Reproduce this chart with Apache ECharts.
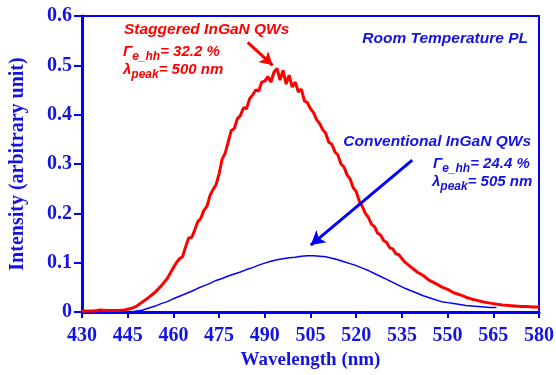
<!DOCTYPE html>
<html><head><meta charset="utf-8">
<script src="https://cdn.jsdelivr.net/npm/echarts@6/dist/echarts.min.js"></script>
<style>html,body{margin:0;padding:0;background:#fff}#c{width:556px;height:375px}</style>
</head><body><div id="c"></div>
<script>
var xTicks = [430,445,460,475,490,505,520,535,550,565,580];
var redWl = [430,432,434,436,438,440,442,444,446,448,450,452,454,456,458,460,461,462,463,464,465,466,467,468,469,470,471,472,473,474,475,476,477,478,
 479,480,481,482,483,484,485,486,487,488,489,490,491,492,493,494,495,496,497,498,499,500,501,502,503,504,505,506,507,508,509,510,511,512,513,514,515,516,517,518,519,520,521,
 522,523,524,525,526,527,528,529,530,531,532,533,534,536,538,540,542,544,546,548,550,552,554,556,558,560,562,564,566,568,570,572,574,576,578,580];
var redI = [.002,.002,.002,.004,.003,.003,.003,.004,.007,.012,.021,.030,.040,.053,.068,.090,.100,.108,.112,.132,.150,.151,.166,.183,.190,.206,.214,.236,.248,.258,.280,.310,.322,.345,
 .368,.372,.392,.398,.414,.412,.432,.440,.450,.448,.466,.468,.477,.466,.486,.494,.470,.490,.462,.480,.456,.466,.446,.452,.428,.424,.412,.404,.390,.382,.370,.362,.344,.340,.325,.318,.300,.294,.278,.270,.252,.244,.225,
 .214,.200,.192,.178,.173,.160,.156,.145,.141,.130,.128,.118,.116,.101,.091,.081,.074,.064,.058,.051,.046,.039,.035,.030,.026,.023,.020,.018,.016,.014,.013,.012,.011,.011,.010,.010];
var blueWl = [446,448,450,452,454,456,458,460,462,464,466,468,470,472,474,476,478,480,482,484,486,488,490,492,494,496,498,500,502,504,506,508,510,512,514,516,518,520,522,524,526,528,530,532,534,536,538,540,542,544,546,548,550,552,554,556,558,560,562,564,566];
var blueI = [.000,.002,.004,.008,.012,.017,.021,.027,.032,.037,.042,.048,.053,.058,.064,.068,.073,.077,.081,.086,.090,.095,.099,.103,.106,.108,.110,.111,.113,.114,.114,.113,.112,.109,.106,.102,.098,.094,.089,.084,.078,.072,.066,.060,.054,.048,.043,.038,.033,.029,.025,.021,.019,.017,.015,.013,.012,.011,.010,.009,.009];

function zip(a,b){return a.map(function(v,i){return [v,b[i]];});}
var BLUE='#0000ff', TBLUE='#1414e0', RED='#ff0000';
var chart = echarts.init(document.getElementById('c'), null, {renderer:'canvas'});
var serif = 'Liberation Serif';
var sans = 'Liberation Sans';
function annRich(color){
  return {
    m:{fontFamily:sans,fontWeight:'bold',fontStyle:'italic',fontSize:15,fill:color,lineHeight:17,verticalAlign:'top'},
    s:{fontFamily:sans,fontWeight:'bold',fontStyle:'italic',fontSize:12,fill:color,lineHeight:13,verticalAlign:'top',padding:[7,0,0,0]}
  };
}
chart.setOption({
  animation:false,
  grid:{left:82,right:17,top:16,bottom:63,show:true,borderColor:BLUE,borderWidth:2,outerBoundsMode:'none'},
  xAxis:{type:'value',min:430,max:580,
    name:'Wavelength (nm)',nameLocation:'middle',nameGap:36,
    nameTextStyle:{fontFamily:serif,fontWeight:'bold',fontSize:19,color:TBLUE},
    axisLine:{lineStyle:{color:BLUE,width:3}},
    axisTick:{show:true,length:6,lineStyle:{color:BLUE,width:2},customValues:xTicks},
    axisLabel:{customValues:xTicks,margin:14,fontFamily:serif,fontWeight:'bold',fontSize:20,color:TBLUE},
    splitLine:{show:false}},
  yAxis:{type:'value',min:0,max:0.6,interval:0.1,
    name:'Intensity (arbitrary unit)',nameLocation:'middle',nameGap:54,
    nameTextStyle:{fontFamily:serif,fontWeight:'bold',fontSize:20,color:TBLUE},
    axisLine:{show:true,lineStyle:{color:BLUE,width:3}},
    axisTick:{show:true,length:8,lineStyle:{color:BLUE,width:2}},
    axisLabel:{margin:10,fontFamily:serif,fontWeight:'bold',fontSize:20,color:TBLUE},
    splitLine:{show:false}},
  series:[
    {type:'line',data:zip(blueWl,blueI),showSymbol:false,lineStyle:{color:BLUE,width:1.5},z:3,
     markLine:{silent:true,symbol:['none','arrow'],symbolSize:[12,14],label:{show:false},
       lineStyle:{color:BLUE,width:3,type:'solid'},
       data:[[{coord:[538.4,0.3077]},{coord:[505.1,0.1356]}]]}},
    {type:'line',data:zip(redWl,redI),showSymbol:false,lineStyle:{color:RED,width:3},z:4,
     markLine:{silent:true,symbol:['none','arrow'],symbolSize:[11,13],label:{show:false},
       lineStyle:{color:RED,width:3,type:'solid'},
       data:[[{coord:[484.4,0.5466]},{coord:[492.6,0.50]}]]}}
  ],
  graphic:[
    {type:'text',left:124,top:22,style:{text:'Staggered InGaN QWs',fill:RED,font:'italic bold 15.5px "Liberation Sans"'}},
    {type:'text',left:123,top:44,style:{text:'{m|\u0393}{s|e_hh}{m|= 32.2 %}',rich:annRich(RED)}},
    {type:'text',left:123,top:62,style:{text:'{m|\u03bb}{s|peak}{m|= 500 nm}',rich:annRich(RED)}},
    {type:'text',right:28,top:31,style:{text:'Room Temperature PL',fill:TBLUE,font:'italic bold 15.5px "Liberation Sans"'}},
    {type:'text',right:25,top:134,style:{text:'Conventional InGaN QWs',fill:TBLUE,font:'italic bold 15.5px "Liberation Sans"'}},
    {type:'text',left:433,top:156,style:{text:'{m|\u0393}{s|e_hh}{m|= 24.4 %}',rich:annRich(TBLUE)}},
    {type:'text',left:432,top:174,style:{text:'{m|\u03bb}{s|peak}{m|= 505 nm}',rich:annRich(TBLUE)}}
  ]
});
</script></body></html>
